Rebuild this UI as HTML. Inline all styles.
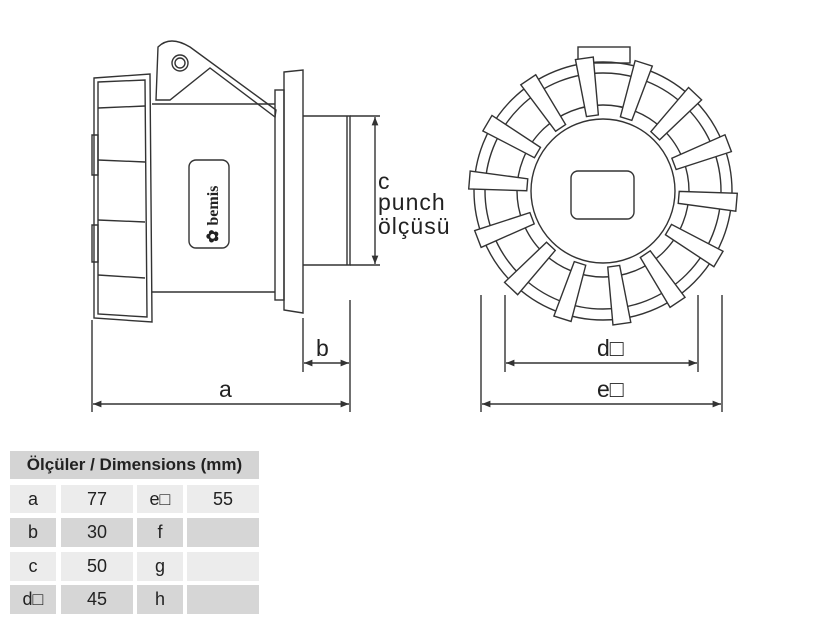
<!DOCTYPE html>
<html><head><meta charset="utf-8"><style>
body{margin:0;background:#fff;width:825px;height:625px;overflow:hidden;font-family:"Liberation Sans",sans-serif}
.t{position:absolute;font-size:18px;color:#222;display:flex;align-items:center;justify-content:center}
</style></head><body>
<svg width="825" height="625" style="position:absolute;left:0;top:0" fill="none" stroke="#333" stroke-width="1.4">
<defs><marker id="ar" viewBox="0 0 10 10" refX="10" refY="5" markerWidth="8" markerHeight="6" orient="auto-start-reverse"><path d="M0,1 L10,5 L0,9z" fill="#333" stroke="none"/></marker></defs>
<path d="M94,78 L150,74 L152,322 L94,318 Z"/>
<path d="M98,82 L145,80 L147,317 L98,314 Z"/>
<path d="M98,108 L145,106 M98,160 L145,162 M98,220 L145,222 M98,275 L145,278"/>
<path d="M92,135 L98,135 L98,175 L92,175 Z M92,225 L98,225 L98,262 L92,262Z"/>
<path d="M152,104 L275,104 M152,292 L275,292"/>
<path d="M156,100 L158,47 Q170,35 190,47 L276,110 L275,117 L210,68 L170,100 Z"/>
<circle cx="180" cy="63" r="8"/><circle cx="180" cy="63" r="5"/>
<rect x="275" y="90" width="9" height="210"/>
<path d="M284,72 L303,70 L303,313 L284,310 Z"/>
<path d="M303,116 L350,116 L350,265 L303,265 M347,116 L347,265"/>
<rect x="189" y="160" width="40" height="88" rx="7"/>
<text x="0" y="0" transform="translate(218,243) rotate(-90)" font-family="Liberation Serif" font-size="16" font-weight="bold" fill="#222" stroke="none">✿ bemis</text>
<line x1="375" y1="117" x2="375" y2="264" marker-start="url(#ar)" marker-end="url(#ar)"/>
<path d="M350,116 L380,116 M350,265 L380,265"/>
<path d="M303,318 L303,372 M350,300 L350,412 M92,320 L92,412"/>
<line x1="304" y1="363" x2="349" y2="363" marker-start="url(#ar)" marker-end="url(#ar)"/>
<line x1="93" y1="404" x2="349" y2="404" marker-start="url(#ar)" marker-end="url(#ar)"/>
<rect x="578" y="47" width="52" height="16"/>
<circle cx="603" cy="191" r="129"/>
<circle cx="603" cy="191" r="118"/>
<circle cx="603" cy="191" r="86"/>
<circle cx="603" cy="191" r="72" fill="#fff"/>
<rect x="571" y="171" width="63" height="48" rx="7"/>
<g fill="#fff">
<polygon points="-6,-76 6,-76 9,-134 -9,-134" transform="translate(603,191) rotate(-8)"/>
<polygon points="-6,-76 6,-76 9,-134 -9,-134" transform="translate(603,191) rotate(17.7)"/>
<polygon points="-6,-76 6,-76 9,-134 -9,-134" transform="translate(603,191) rotate(43.4)"/>
<polygon points="-6,-76 6,-76 9,-134 -9,-134" transform="translate(603,191) rotate(69.1)"/>
<polygon points="-6,-76 6,-76 9,-134 -9,-134" transform="translate(603,191) rotate(94.8)"/>
<polygon points="-6,-76 6,-76 9,-134 -9,-134" transform="translate(603,191) rotate(120.5)"/>
<polygon points="-6,-76 6,-76 9,-134 -9,-134" transform="translate(603,191) rotate(146.2)"/>
<polygon points="-6,-76 6,-76 9,-134 -9,-134" transform="translate(603,191) rotate(171.9)"/>
<polygon points="-6,-76 6,-76 9,-134 -9,-134" transform="translate(603,191) rotate(197.6)"/>
<polygon points="-6,-76 6,-76 9,-134 -9,-134" transform="translate(603,191) rotate(223.3)"/>
<polygon points="-6,-76 6,-76 9,-134 -9,-134" transform="translate(603,191) rotate(249)"/>
<polygon points="-6,-76 6,-76 9,-134 -9,-134" transform="translate(603,191) rotate(274.7)"/>
<polygon points="-6,-76 6,-76 9,-134 -9,-134" transform="translate(603,191) rotate(300.4)"/>
<polygon points="-6,-76 6,-76 9,-134 -9,-134" transform="translate(603,191) rotate(326.1)"/>
</g>
<path d="M505,295 L505,372 M698,295 L698,372 M481,295 L481,412 M722,295 L722,412"/>
<line x1="506" y1="363" x2="697" y2="363" marker-start="url(#ar)" marker-end="url(#ar)"/>
<line x1="482" y1="404" x2="721" y2="404" marker-start="url(#ar)" marker-end="url(#ar)"/>
<g fill="#222" stroke="none" font-size="23">
<text x="378" y="189">c</text>
<text x="378" y="210" letter-spacing="1">punch</text>
<text x="378" y="234" letter-spacing="1">ölçüsü</text>
<text x="316" y="356">b</text>
<text x="219" y="397">a</text>
<text x="597" y="356">d□</text>
<text x="597" y="397">e□</text>
</g>
</svg>
<div class="t" style="left:10px;top:451px;width:249px;height:28px;background:#d4d4d4;font-weight:bold;font-size:17px">Ölçüler / Dimensions (mm)</div>
<div class="t" style="left:10px;top:485px;width:46px;height:28px;background:#ececec">a</div>
<div class="t" style="left:61px;top:485px;width:72px;height:28px;background:#ececec">77</div>
<div class="t" style="left:137px;top:485px;width:46px;height:28px;background:#ececec">e□</div>
<div class="t" style="left:187px;top:485px;width:72px;height:28px;background:#ececec">55</div>
<div class="t" style="left:10px;top:518px;width:46px;height:29px;background:#d6d6d6">b</div>
<div class="t" style="left:61px;top:518px;width:72px;height:29px;background:#d6d6d6">30</div>
<div class="t" style="left:137px;top:518px;width:46px;height:29px;background:#d6d6d6">f</div>
<div class="t" style="left:187px;top:518px;width:72px;height:29px;background:#d6d6d6"></div>
<div class="t" style="left:10px;top:552px;width:46px;height:29px;background:#ececec">c</div>
<div class="t" style="left:61px;top:552px;width:72px;height:29px;background:#ececec">50</div>
<div class="t" style="left:137px;top:552px;width:46px;height:29px;background:#ececec">g</div>
<div class="t" style="left:187px;top:552px;width:72px;height:29px;background:#ececec"></div>
<div class="t" style="left:10px;top:585px;width:46px;height:29px;background:#d6d6d6">d□</div>
<div class="t" style="left:61px;top:585px;width:72px;height:29px;background:#d6d6d6">45</div>
<div class="t" style="left:137px;top:585px;width:46px;height:29px;background:#d6d6d6">h</div>
<div class="t" style="left:187px;top:585px;width:72px;height:29px;background:#d6d6d6"></div>
</body></html>
